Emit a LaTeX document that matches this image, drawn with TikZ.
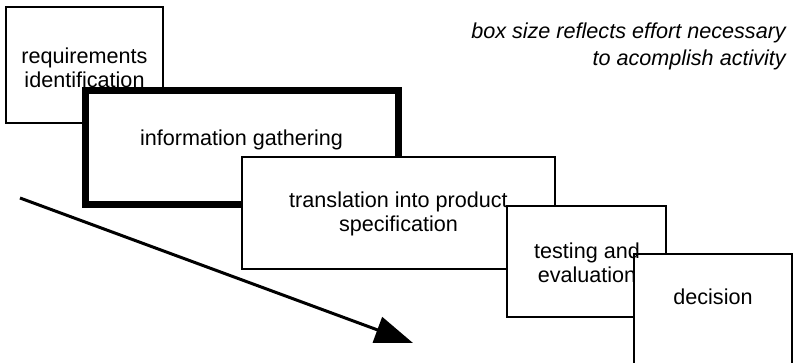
\documentclass[tikz,border=0pt]{standalone}
\usepackage{fontspec}
\setmainfont{Liberation Sans}
\usetikzlibrary{calc}
\usetikzlibrary{positioning}
\usetikzlibrary{arrows.meta}

\begin{document}
\begin{tikzpicture}[x=1pt,y=-1pt,
  stage/.style={draw,fill=white,line width=1.5pt,inner sep=0pt},
  stagetext/.style={align=center,inner sep=0pt,font=\fontsize{21.6}{24}\selectfont}]

\useasboundingbox (0,0) rectangle (793,362);

\node[stage,minimum width=157pt,minimum height=116pt] (req) at (84.5,65) {};
\node[stage,line width=7pt,minimum width=313pt,minimum height=114pt] (info) at (241.5,147) {};
\node[stage,minimum width=313pt,minimum height=112pt] (spec) at (398.5,213) {};
\node[stage,minimum width=159pt,minimum height=111pt] (test) at (586.5,261.5) {};
\node[stage,minimum width=158pt,minimum height=121pt] (dec) at (713,314.5) {};

\node[stagetext] (req text) at ($(req.center)+(0,3)$) {requirements\\identification};
\node[stagetext] (info text) at ($(info.center)+(0,-7)$) {information gathering};
\node[stagetext] (spec text) at ($(spec.center)+(0,1)$) {translation into product\\specification};
\node[stagetext] (test text) at ($(test.center)+(0.5,1.5)$) {testing and\\evaluation};
\node[stagetext] (dec text) at ($(dec.center)+(0,-17.5)$) {decision};

\coordinate (a) at (20,198);
\coordinate (b) at (413,343);
\draw[line width=3pt,-{Triangle[length=38pt,width=27pt]}] (a) -- (b);

\node[anchor=north east,align=right,inner sep=0pt,font=\itshape\fontsize{21.6}{27}\selectfont] (note) at (786,23) {box size reflects effort necessary\\to acomplish activity};
\end{tikzpicture}
\end{document}
